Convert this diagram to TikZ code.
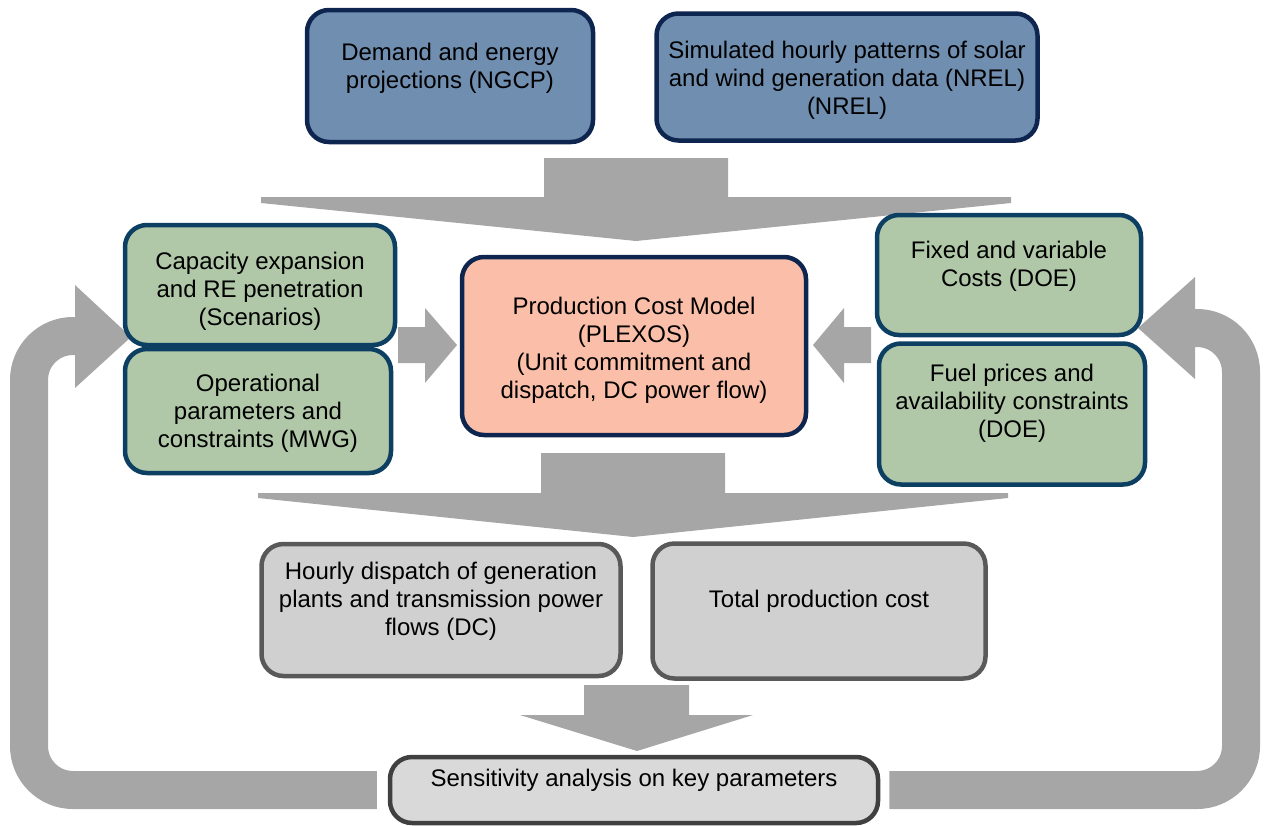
\documentclass[tikz,border=0pt]{standalone}
\usepackage{fontspec}
\setmainfont{Liberation Sans}
\usetikzlibrary{backgrounds}
\definecolor{inputfill}{HTML}{708EB0}
\definecolor{inputdraw}{HTML}{0E2550}
\definecolor{datafill}{HTML}{B0C8A8}
\definecolor{datadraw}{HTML}{0C3F62}
\definecolor{modelfill}{HTML}{FBBEA8}
\definecolor{resultfill}{HTML}{D0D0D0}
\definecolor{resultdraw}{HTML}{595959}
\definecolor{sensfill}{HTML}{D9D9D9}
\definecolor{sensdraw}{HTML}{404040}
\definecolor{bandgray}{HTML}{A6A6A6}
\newcommand{\boxlines}[2]{\raisebox{0pt}[\height][\dimexpr\depth+#1\relax]{\begin{tabular}{@{}c@{}}#2\end{tabular}}}
\begin{document}
\begin{tikzpicture}[x=1pt,y=-1pt,
  box/.style={draw,rounded corners=22pt,line width=4.5pt,inner sep=0pt,font=\fontsize{24}{28}\selectfont},
  boxsize/.style 2 args={minimum width=#1pt,minimum height=#2pt},
  inputbox/.style={box,draw=inputdraw,fill=inputfill},
  databox/.style={box,draw=datadraw,fill=datafill},
  modelbox/.style={box,draw=inputdraw,fill=modelfill},
  resultbox/.style={box,draw=resultdraw,fill=resultfill},
  sensbox/.style={box,draw=sensdraw,fill=sensfill},
  band/.style={draw=bandgray,line width=38pt,rounded corners=44pt}]
\useasboundingbox (0,0) rectangle (1266,825);
\node[inputbox,boxsize={286}{132}] (demand) at (450,76) {\boxlines{14pt}{Demand and energy\\projections (NGCP)}};
\node[inputbox,boxsize={381}{127}] (solar) at (847,77) {\boxlines{-8pt}{Simulated hourly patterns of solar\\and wind generation data (NREL)\\(NREL)}};
\node[databox,boxsize={270}{120}] (capacity) at (260,285) {\boxlines{-14pt}{Capacity expansion\\and RE penetration\\(Scenarios)}};
\node[databox,boxsize={266}{124}] (oper) at (258,411) {\boxlines{-6pt}{Operational\\parameters and\\constraints (MWG)}};
\node[modelbox,boxsize={344}{178}] (pcm) at (634,346) {\boxlines{-10pt}{Production Cost Model\\(PLEXOS)\\(Unit commitment and\\dispatch, DC power flow)}};
\node[databox,boxsize={264}{120}] (costs) at (1009,275) {\boxlines{16pt}{Fixed and variable\\Costs (DOE)}};
\node[databox,boxsize={266}{141}] (fuel) at (1012,414) {\boxlines{20pt}{Fuel prices and\\availability constraints\\(DOE)}};
\node[resultbox,boxsize={359}{132}] (dispatch) at (441,610) {\boxlines{16pt}{Hourly dispatch of generation\\plants and transmission power\\flows (DC)}};
\node[resultbox,boxsize={333}{135}] (total) at (819,611) {\boxlines{19pt}{Total production cost}};
\node[sensbox,boxsize={488}{66}] (sens) at (634,790) {\boxlines{18pt}{Sensitivity analysis on key parameters}};
\coordinate (ltip) at (131,337);
\coordinate (lbase) at (75,336);
\coordinate (rtip) at (1138,328);
\coordinate (rbase) at (1195,328);
\begin{scope}[on background layer]
\fill[bandgray] (544,158) -- (728,158) -- (728,197) -- (1011,197) -- (1011,203) -- (636,241) -- (261,203) -- (261,197) -- (544,197) -- cycle;
\fill[bandgray] (541,453) -- (725,453) -- (725,493) -- (1008,493) -- (1008,498) -- (633,537) -- (258,498) -- (258,493) -- (541,493) -- cycle;
\fill[bandgray] (584,685) -- (689,685) -- (689,715) -- (753,715) -- (637,751) -- (520,715) -- (584,715) -- cycle;
\fill[bandgray] (398,327) -- (425,327) -- (425,308) -- (457,345) -- (425,383) -- (425,363) -- (398,363) -- cycle;
\fill[bandgray] (871,327) -- (844,327) -- (844,308) -- (813,345) -- (844,383) -- (844,363) -- (871,363) -- cycle;
\draw[band] ([xshift=-11pt]sens.west) -| (29,336) -- (lbase);
\fill[bandgray] (75,285) -- (ltip) -- (75,388) -- cycle;
\draw[band] ([xshift=9pt]sens.east) -| (1241,328) -- (rbase);
\fill[bandgray] (1195,277) -- (rtip) -- (1195,379) -- cycle;
\end{scope}
\end{tikzpicture}
\end{document}
